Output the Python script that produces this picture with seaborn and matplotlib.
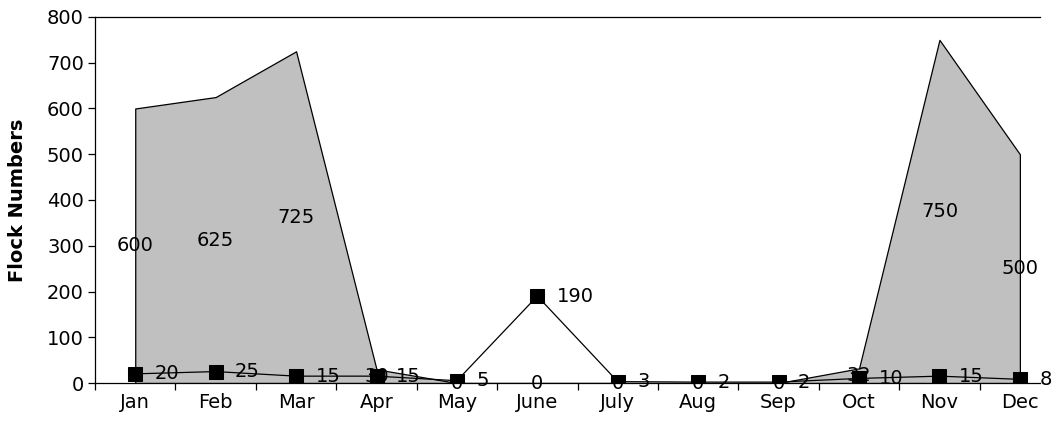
import matplotlib
matplotlib.use("Agg")
import matplotlib.pyplot as plt
import seaborn as sns
import numpy as np
import pandas as pd

months = ["Jan", "Feb", "Mar", "Apr", "May", "June", "July", "Aug", "Sep", "Oct", "Nov", "Dec"]
area_values = [600, 625, 725, 30, 0, 0, 0, 0, 0, 32, 750, 500]
line_values = [20, 25, 15, 15, 5, 190, 3, 2, 2, 10, 15, 8]
y_ticks = [0, 100, 200, 300, 400, 500, 600, 700, 800]

sns.set_theme(style="white")
plt.rcParams["font.family"] = ["DejaVu Sans"]
plt.rcParams["text.color"] = "black"
plt.rcParams["axes.labelcolor"] = "black"
plt.rcParams["xtick.color"] = "black"
plt.rcParams["ytick.color"] = "black"

df = pd.DataFrame({"month": months, "x": np.arange(len(months)),
                   "area": area_values, "line": line_values})

fig = plt.figure(figsize=(10.57, 4.29), dpi=100)
ax = fig.add_axes([0.0899, 0.1072, 0.8940, 0.8532])

ax.fill_between(df["x"], 0, df["area"], facecolor="#c0c0c0", edgecolor="black",
                linewidth=0.9, zorder=1)
sns.lineplot(data=df, x="x", y="line", ax=ax, color="black", linewidth=0.9,
             marker="s", markersize=10, markeredgecolor="black",
             markerfacecolor="black", zorder=3)

fs = 14
for xi, v in zip(df["x"], df["area"]):
    ax.text(xi, v / 2, str(v), ha="center", va="center", fontsize=fs,
            color="black", zorder=4, clip_on=False)
for xi, v in zip(df["x"], df["line"]):
    ax.annotate(str(v), (xi, v), xytext=(14, 0), textcoords="offset points",
                ha="left", va="center", fontsize=fs, color="black",
                zorder=4, annotation_clip=False)

ax.set_xlim(-0.5, 11.25)
ax.set_ylim(0, 800)
ax.set_yticks(y_ticks)
ax.set_yticklabels([str(t) for t in y_ticks], fontsize=fs, color="black")
ax.set_xticks(df["x"])
ax.set_xticklabels(months, fontsize=fs, color="black")
ax.set_xticks(np.arange(-0.5, 11.0, 1.0), minor=True)
ax.tick_params(axis="x", which="major", length=0, pad=7)
ax.tick_params(axis="x", which="minor", length=5, width=0.9, color="black",
               direction="out", bottom=True)
ax.tick_params(axis="y", which="major", length=5, width=0.9, color="black",
               direction="out", left=True, pad=3)
ax.set_xlabel("")
ax.set_ylabel("Flock Numbers", fontsize=14, fontweight="bold", color="black",
              labelpad=14)

for side in ["left", "bottom", "top"]:
    ax.spines[side].set_visible(True)
    ax.spines[side].set_color("black")
    ax.spines[side].set_linewidth(0.9)
ax.spines["right"].set_visible(False)

fig.savefig("out.png", dpi=100)
